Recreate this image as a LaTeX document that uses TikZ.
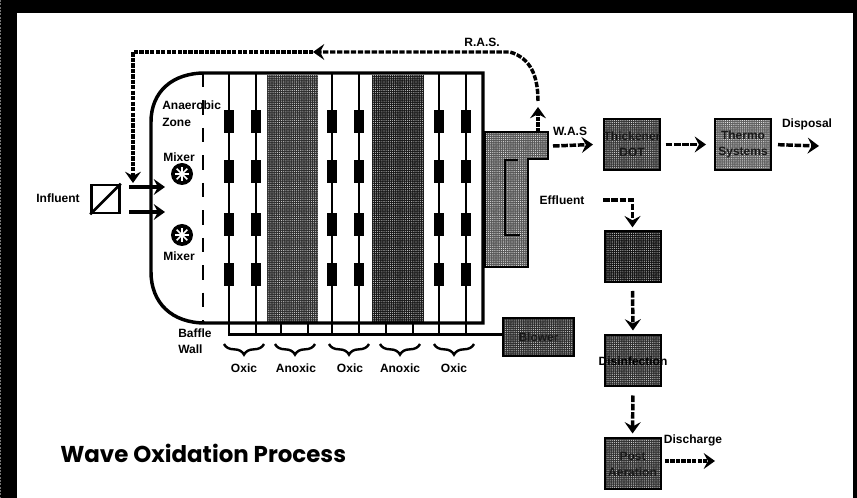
\documentclass[tikz,border=0pt]{standalone}
\usepackage{fontspec}
\setmainfont{Liberation Sans}
\newfontfamily\titlefont{Poppins}
\usetikzlibrary{arrows.meta,patterns.meta,decorations.pathreplacing}
\tikzset{
  x=0.75pt,y=-0.75pt,
  lab/.style={font=\fontsize{9}{10}\selectfont\bfseries,inner sep=0pt,text=black},
  llab/.style={lab,anchor=west},
  boxlab/.style={lab,align=center,text=black!90},
  tex/.style 2 args={preaction={fill=black!#1},pattern={Dots[distance=1.6pt,radius=0.42pt]},pattern color=white!#2!black},
  procbox/.style={draw=black,line width=1.5pt,inner sep=0pt,minimum width=42pt,minimum height=38.25pt},
  wall/.style={line width=2.6pt,black},
  flowtip/.style={-{Stealth[length=8.5pt,width=12pt,inset=3.2pt]}},
  flow/.style={line width=2.6pt,dash pattern=on 5pt off 1.2pt,flowtip},
  denseflow/.style={line width=2.6pt,dash pattern=on 3.2pt off 0.9pt,flowtip},
  solidflow/.style={line width=2.6pt,flowtip},
  curly/.style={decorate,decoration={brace,amplitude=8pt,aspect=0.5},line width=1.8pt},
}
\begin{document}
\begin{tikzpicture}
\useasboundingbox (0,0) rectangle (857,498);
% frame
\fill[black] (0,0) rectangle (857,13);
\fill[black] (0,0) rectangle (17,498);
\fill[black] (853,0) rectangle (857,498);
\draw[black!55,line width=1pt,dash pattern=on 1.5pt off 1pt] (0.7,0) -- (0.7,498);

% anoxic zones
\fill[tex={82}{85}] (267,75) rectangle (318,322);
\fill[tex={90}{80}] (372,75) rectangle (424,322);

% clarifier
\draw[black,line width=1.5pt,tex={66}{92}] (485,132) -- (548,132) -- (548,159) -- (528,159) -- (528,267) -- (485,267) -- cycle;
\draw[black,line width=1.5pt] (518,160) -- (505,160) -- (505,235) -- (520,235);
\coordinate (tabtop) at (538,132);

% tank outline
\draw[wall] (483,73) -- (205,73) .. controls (172,73) and (151,92) .. (151,122) -- (151,272) .. controls (151,303) and (172,323) .. (205,323) -- (483,323) -- cycle;

% baffle wall
\draw[line width=2pt,dash pattern=on 10.8pt off 9.8pt] (203,73) -- (203,323);

% aeration lines and diffusers
\foreach \x in {229,256,332,359,439,466}{
  \draw[line width=2pt] (\x,73) -- (\x,335);
  \foreach \y in {110,160,213,263}{
    \fill[black] (\x-5,\y) rectangle (\x+5,\y+23);
  }
}
\foreach \x in {281,308,386,413}{
  \draw[line width=2pt] (\x,323) -- (\x,335);
}

% blower
\node[procbox,minimum width=53pt,minimum height=28.5pt,tex={82}{85}] (blower) at (538.5,337) {};
\node[boxlab] at (blower.center) {Blower};
\draw[line width=1.6pt] (228,334.5) -- (blower.west |- 0,334.5);

% braces
\draw[curly] (264,344) -- (224,344);
\draw[curly] (315,344) -- (275,344);
\draw[curly] (369,344) -- (329,344);
\draw[curly] (420,344) -- (380,344);
\draw[curly] (474,344) -- (434,344);
\node[lab] at (244,368) {Oxic};
\node[lab] at (296,368) {Anoxic};
\node[lab] at (350,368) {Oxic};
\node[lab] at (400,368) {Anoxic};
\node[lab] at (454,368) {Oxic};
\node[llab] at (178,333) {Baffle};
\node[llab] at (178,349) {Wall};

% labels in tank
\node[llab] at (162,105) {Anaerobic};
\node[llab] at (162,122) {Zone};
\node[lab] at (179,157) {Mixer};
\node[lab] at (179,256) {Mixer};

% mixers
\foreach \name/\y in {mixa/174,mixb/235}{
  \node[circle,fill=black,minimum size=16.5pt,inner sep=0pt] (\name) at (182,\y) {};
  \foreach \a in {0,45,...,315}{
    \draw[white,line width=1.1pt] (\name.center) -- ++(\a:5.6pt);
  }
}

% influent
\node[lab] (infl) at (58,198.5) {Influent};
\node[draw=black,line width=1.9pt,minimum size=21pt,inner sep=0pt] (inbox) at (105.5,199) {};
\draw[line width=1.9pt] (inbox.south west) -- (inbox.north east);
\coordinate (ina) at (129,187);
\coordinate (inb) at (129,212);
\coordinate (ena) at (165,187);
\coordinate (enb) at (165,212);
\draw[solidflow] (ina) -- (ena);
\draw[solidflow] (inb) -- (enb);

% RAS
\coordinate (rasup) at (538,107);
\coordinate (rasb) at (538,101);
\coordinate (rasmid) at (313,52);
\coordinate (rasc) at (133,52);
\coordinate (rase) at (133,183);
\draw[denseflow] (tabtop) -- (rasup);
\draw[flow,dash pattern=on 4pt off 1.2pt] (rasb) .. controls (538,75) and (530,58) .. (510,52) -- (rasmid);
\draw[denseflow] (rasmid) -- (rasc) -- (rase);
\node[lab] at (482,42) {R.A.S.};

% process boxes
\node[procbox,tex={78}{88}] (thick) at (632,144.5) {};
\node[boxlab] at (thick.center) {Thickener\\[2pt]DOT};
\node[procbox,tex={62}{95}] (thermo) at (743,144.5) {};
\node[boxlab] at (thermo.center) {Thermo\\[2pt]Systems};
\node[procbox,tex={92}{80}] (filt) at (632.5,256.5) {};
\node[procbox,tex={82}{85}] (dis) at (633,361) {};
\node[lab] at (dis.center) {Disinfection};
\node[procbox,tex={80}{85}] (post) at (632.5,464) {};
\node[boxlab] at (post.center) {Post\\[2pt]Aeration};

% side stream flows
\node[lab] (waslab) at (570,131) {W.A.S};
\coordinate (wass) at (553,146);
\draw[flow] (wass) -- ([xshift=-7.5pt]thick.west);
\draw[flow,shorten <=3.5pt,shorten >=6pt] (thick.east) -- (thermo.west);
\node[lab] (displab) at (807,124) {Disposal};
\coordinate (dispe) at (819,146);
\draw[flow,shorten <=4.5pt] (thermo.east) -- (dispe);
\node[lab] (efflab) at (562,200) {Effluent};
\coordinate (effs) at (603,200);
\draw[flow,shorten >=2pt] (effs) -| (filt.north);
\draw[flow,shorten <=6pt,shorten >=3pt] (filt.south) -- (dis.north);
\draw[flow,shorten <=6pt,shorten >=3pt] (dis.south) -- (post.north);
\node[lab] (dislab) at (693,440) {Discharge};
\coordinate (dise) at (715,461);
\draw[denseflow,shorten <=2.5pt] (post.east |- dise) -- (dise);

% title
\node[anchor=west,inner sep=0pt,font=\titlefont\bfseries\fontsize{17.2}{20}\selectfont] (title) at (60,453) {Wave Oxidation Process};
\end{tikzpicture}
\end{document}
